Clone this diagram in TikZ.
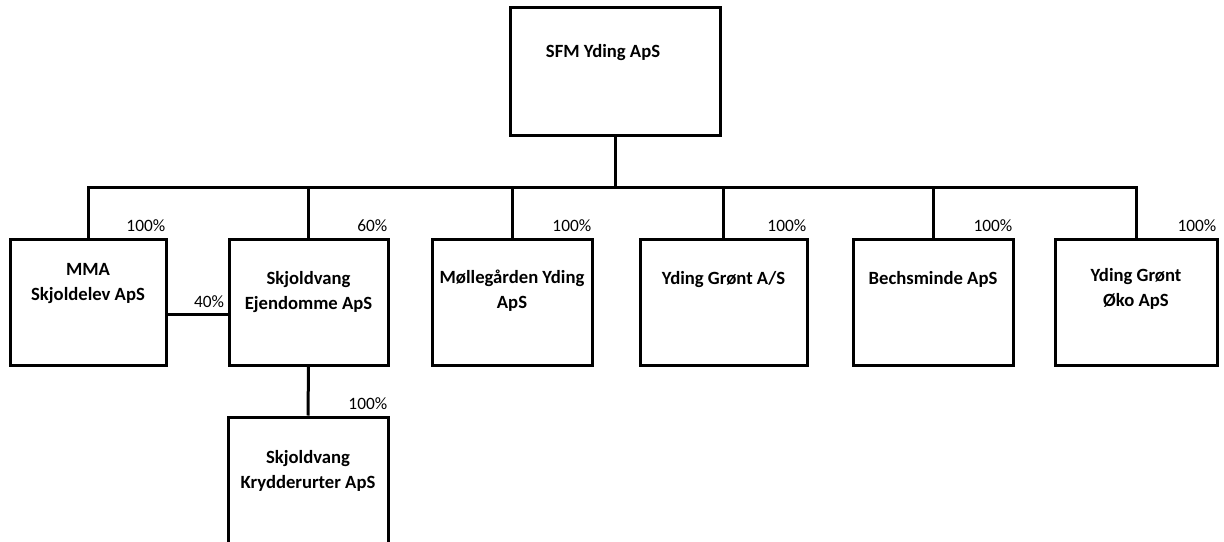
\documentclass[tikz,border=0pt]{standalone}
\usepackage{fontspec}
\setmainfont{Carlito}
\usetikzlibrary{positioning}
\tikzset{
  orgbox/.style={rectangle,draw,line width=2.25pt,minimum height=94.5pt,inner sep=0pt},
  boxtext/.style={align=center,inner sep=0pt,font=\bfseries\fontsize{14}{19}\selectfont},
  share/.style={inner sep=1.5pt,font=\fontsize{13}{15}\selectfont},
  ld/.style={line width=2.25pt}
}

\begin{document}
\begin{tikzpicture}[x=0.75pt,y=-0.75pt]
\useasboundingbox (0,0) rectangle (1224,542);
\clip (0,0) rectangle (1224,542);

\node[orgbox,minimum width=157.5pt,minimum height=95.25pt] (SFM) at (615,71.5) {};
\node[orgbox,minimum width=117pt] (MMA) at (88,302) {};
\node[orgbox,minimum width=119.25pt] (SkE) at (308.5,302) {};
\node[orgbox,minimum width=120pt] (Mol) at (512,302) {};
\node[orgbox,minimum width=125.25pt] (YGA) at (723.5,302) {};
\node[orgbox,minimum width=120pt] (Bech) at (933,302) {};
\node[orgbox,minimum width=121.5pt] (YGO) at (1136,302) {};
\node[orgbox,minimum width=120pt,minimum height=105pt] (Kry) at (308,487) {};

\node[boxtext,below=28pt of SFM.north,xshift=-9pt] (SFMt) {SFM Yding ApS};
\node[boxtext,below=19pt of MMA.north] (MMAt) {MMA\\Skjoldelev ApS};
\node[boxtext,below=25pt of SkE.north] (SkEt) {Skjoldvang\\Ejendomme ApS};
\node[boxtext,below=24pt of Mol.north] (Molt) {Møllegården Yding\\ApS};
\node[boxtext,below=25pt of YGA.north] (YGAt) {Yding Grønt A/S};
\node[boxtext,below=25pt of Bech.north] (Becht) {Bechsminde ApS};
\node[boxtext,below=23pt of YGO.north] (YGOt) {Yding Grønt\\Øko ApS};
\node[boxtext,below=26pt of Kry.north] (Kryt) {Skjoldvang\\Krydderurter ApS};

\coordinate (bus) at (615,187);
\draw[ld] (SFM.south) -- (bus);
\foreach \b in {MMA,SkE,Mol,YGA,Bech,YGO}
  \draw[ld] (\b.north) |- (bus);
\draw[ld] (SkE.south) -- (Kry.north);
\draw[ld] ([shift={(0,12)}]MMA.east) -- ([shift={(0,12)}]SkE.west)
  node[share,anchor=south east,pos=1,yshift=2pt] (p40) {40\%};

% ownership shares
\foreach \b in {MMA,Mol,YGA,Bech,YGO,Kry}
  \node[share,anchor=south east,yshift=3pt] (p\b) at (\b.north east) {100\%};
\node[share,anchor=south east,yshift=3pt] (pSkE) at (SkE.north east) {60\%};
\end{tikzpicture}
\end{document}
